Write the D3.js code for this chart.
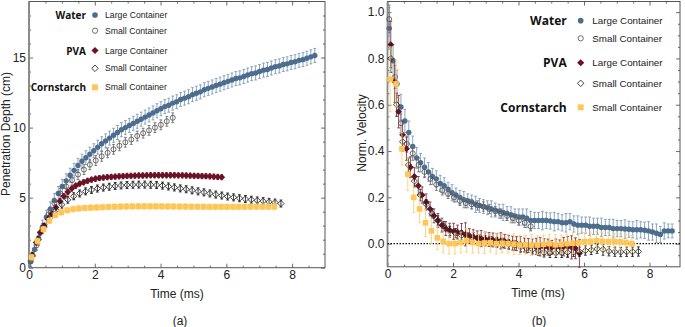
<!DOCTYPE html>
<html>
<head>
<meta charset="utf-8">
<script src="https://cdn.jsdelivr.net/npm/d3@7"></script>
<style>
  body { margin: 0; background: #fff; }
  svg { display: block; }
</style>
</head>
<body>
<div id="chart"></div>
<script>
// ---- data ----
// water, large container
var tWL = [0.05,0.17,0.29,0.41,0.53,0.65,0.77,0.89,1.01,1.13,
    1.25,1.37,1.49,1.61,1.73,1.85,1.97,2.09,2.21,2.33,
    2.45,2.57,2.69,2.81,2.93,3.05,3.17,3.29,3.41,3.53,
    3.65,3.77,3.89,4.01,4.13,4.25,4.37,4.49,4.61,4.73,
    4.85,4.97,5.09,5.21,5.33,5.45,5.57,5.69,5.81,5.93,
    6.05,6.17,6.29,6.41,6.53,6.65,6.77,6.89,7.01,7.13,
    7.25,7.37,7.49,7.61,7.73,7.85,7.97,8.09,8.21,8.33,
    8.45,8.57,8.69]
var depthWL = [0.45,1.3,2.1,2.9,3.6,4.2,4.8,5.3,5.8,6.2,
    6.6,6.95,7.3,7.6,7.85,8.1,8.35,8.6,8.85,9.05,
    9.25,9.45,9.65,9.85,10.0,10.15,10.3,10.45,10.6,10.75,
    10.9,11.05,11.2,11.35,11.5,11.6,11.75,11.85,12.0,12.1,
    12.2,12.35,12.45,12.55,12.7,12.8,12.9,13.0,13.1,13.2,
    13.3,13.4,13.5,13.55,13.65,13.75,13.85,13.9,14.0,14.1,
    14.15,14.25,14.35,14.4,14.5,14.55,14.65,14.7,14.8,14.85,
    14.95,15.05,15.15]
var velWL = [0.93,0.79,0.69,0.59,0.53,0.48,0.42,0.37,0.35,0.33,
    0.31,0.29,0.28,0.26,0.25,0.235,0.22,0.21,0.2,0.19,
    0.185,0.18,0.17,0.165,0.16,0.155,0.15,0.145,0.14,0.135,
    0.13,0.125,0.12,0.115,0.115,0.11,0.1,0.1,0.1,0.1,
    0.1,0.098,0.095,0.095,0.09,0.09,0.095,0.085,0.08,0.08,
    0.08,0.075,0.075,0.075,0.07,0.07,0.07,0.065,0.065,0.065,
    0.063,0.062,0.06,0.06,0.06,0.058,0.055,0.05,0.045,0.04,
    0.055,0.055,0.055]
var velErrWL = [0.09,0.07,0.06,0.055,0.05,0.05,0.045,0.045,0.04,0.04,
    0.04,0.035,0.035,0.035,0.035,0.03,0.035,0.03,0.03,0.035,
    0.03,0.03,0.035,0.03,0.03,0.03,0.035,0.03,0.03,0.035,
    0.03,0.035,0.03,0.035,0.035,0.04,0.04,0.035,0.035,0.04,
    0.035,0.035,0.04,0.035,0.035,0.04,0.035,0.035,0.04,0.035,
    0.035,0.04,0.035,0.035,0.04,0.035,0.035,0.04,0.035,0.035,
    0.04,0.035,0.035,0.04,0.035,0.035,0.04,0.035,0.04,0.035,
    0.035,0.03,0.03]
var depthErrWL = 0.5

// water, small container
var tWS = [0.05,0.23,0.41,0.59,0.77,0.95,1.13,1.31,1.49,1.67,
    1.85,2.03,2.21,2.39,2.57,2.75,2.93,3.11,3.29,3.47,
    3.65,3.83,4.01,4.19,4.37]
var depthWS = [0.45,1.6,2.8,3.8,4.6,5.3,5.8,6.25,6.65,7.0,
    7.35,7.65,7.95,8.2,8.45,8.7,8.95,9.15,9.4,9.6,
    9.8,10.0,10.2,10.45,10.7]
var velWS = [0.97,0.72,0.52,0.43,0.39,0.34,0.31,0.28,0.255,0.23,
    0.215,0.2,0.185,0.175,0.17,0.165,0.16,0.15,0.14,0.13,
    0.12,0.11,0.1,0.09,0.075]
var velErrWS = [0.06,0.05,0.04,0.035,0.03,0.03,0.025,0.025,0.025,0.02,
    0.02,0.02,0.02,0.02,0.02,0.02,0.02,0.02,0.02,0.02,
    0.02,0.02,0.02,0.02,0.02]
var depthErrWS = 0.35

// PVA, large container
var tPL = [0.1,0.22,0.34,0.46,0.58,0.7,0.82,0.94,1.06,1.18,
    1.3,1.42,1.54,1.66,1.78,1.9,2.02,2.14,2.26,2.38,
    2.5,2.62,2.74,2.86,2.98,3.1,3.22,3.34,3.46,3.58,
    3.7,3.82,3.94,4.06,4.18,4.3,4.42,4.54,4.66,4.78,
    4.9,5.02,5.14,5.26,5.38,5.5,5.62,5.74,5.86]
var depthPL = [0.9,1.8,2.5,3.0,3.45,3.85,4.3,4.75,5.1,5.4,
    5.65,5.85,6.0,6.1,6.2,6.28,6.35,6.4,6.43,6.46,
    6.48,6.5,6.52,6.53,6.55,6.56,6.57,6.58,6.58,6.59,
    6.6,6.6,6.6,6.6,6.6,6.6,6.6,6.59,6.59,6.58,
    6.57,6.56,6.55,6.54,6.53,6.52,6.5,6.48,6.46]
var velPL = [0.86,0.7,0.57,0.47,0.41,0.33,0.29,0.25,0.21,0.18,
    0.15,0.12,0.1,0.08,0.065,0.058,0.053,0.05,0.047,0.04,
    0.035,0.03,0.025,0.022,0.02,0.018,0.016,0.014,0.012,0.01,
    0.006,0.002,0.0,-0.004,-0.006,-0.008,-0.01,-0.012,-0.013,-0.014,
    -0.015,-0.016,-0.015,-0.014,-0.013,-0.014,-0.016,-0.02,-0.042]
var velErrPL = [0.1,0.09,0.07,0.06,0.05,0.045,0.04,0.04,0.035,0.035,
    0.03,0.03,0.03,0.03,0.03,0.03,0.035,0.03,0.04,0.05,
    0.03,0.03,0.03,0.035,0.03,0.03,0.03,0.03,0.035,0.03,
    0.03,0.03,0.03,0.035,0.03,0.03,0.03,0.035,0.04,0.035,
    0.035,0.03,0.035,0.03,0.04,0.045,0.05,0.045,0.06]
var depthErrPL = 0.18

// PVA, small container
var tPS = [0.1,0.28,0.46,0.64,0.82,1.0,1.18,1.36,1.54,1.72,
    1.9,2.08,2.26,2.44,2.62,2.8,2.98,3.16,3.34,3.52,
    3.7,3.88,4.06,4.24,4.42,4.6,4.78,4.96,5.14,5.32,
    5.5,5.68,5.86,6.04,6.22,6.4,6.58,6.76,6.94,7.12,
    7.3,7.48,7.66]
var depthPS = [0.85,2.0,2.9,3.6,4.1,4.5,4.85,5.1,5.3,5.45,
    5.55,5.65,5.72,5.78,5.83,5.87,5.9,5.92,5.93,5.93,
    5.92,5.9,5.86,5.8,5.73,5.66,5.6,5.52,5.45,5.38,
    5.3,5.22,5.15,5.08,5.02,4.96,4.9,4.85,4.8,4.75,
    4.7,4.65,4.58]
var velPS = [0.8,0.6,0.44,0.34,0.27,0.21,0.17,0.13,0.1,0.075,
    0.055,0.045,0.035,0.027,0.022,0.018,0.014,0.01,0.007,0.003,
    -0.003,-0.008,-0.014,-0.02,-0.025,-0.03,-0.038,-0.04,-0.04,-0.04,
    -0.038,-0.036,-0.035,-0.03,-0.027,-0.022,-0.025,-0.033,-0.035,-0.036,
    -0.035,-0.035,-0.034]
var velErrPS = [0.06,0.05,0.04,0.03,0.025,0.025,0.02,0.02,0.02,0.02,
    0.02,0.02,0.02,0.02,0.025,0.02,0.02,0.02,0.02,0.02,
    0.02,0.02,0.02,0.02,0.02,0.02,0.02,0.02,0.02,0.02,
    0.02,0.02,0.02,0.02,0.02,0.02,0.025,0.02,0.02,0.02,
    0.02,0.02,0.02]
var depthErrPS = 0.25

// cornstarch, small container
var tCS = [0.08,0.26,0.44,0.62,0.8,0.98,1.16,1.34,1.52,1.7,
    1.88,2.06,2.24,2.42,2.6,2.78,2.96,3.14,3.32,3.5,
    3.68,3.86,4.04,4.22,4.4,4.58,4.76,4.94,5.12,5.3,
    5.48,5.66,5.84,6.02,6.2,6.38,6.56,6.74,6.92,7.1,
    7.28,7.46]
var depthCS = [0.75,1.9,2.75,3.35,3.75,3.95,4.1,4.18,4.23,4.26,
    4.28,4.3,4.32,4.34,4.35,4.36,4.37,4.38,4.38,4.38,
    4.38,4.38,4.38,4.37,4.37,4.36,4.36,4.35,4.35,4.35,
    4.34,4.34,4.34,4.34,4.34,4.34,4.35,4.35,4.35,4.35,
    4.35,4.35]
var velCS = [0.71,0.69,0.41,0.3,0.2,0.15,0.09,0.055,0.025,0.01,
    0.0,0.0,0.005,0.013,0.005,0.0,0.003,0.004,0.0,0.002,
    0.0,-0.002,-0.006,-0.005,-0.006,-0.006,-0.003,0.0,-0.005,-0.003,
    0.0,0.002,0.004,0.008,0.01,0.013,0.01,0.009,0.009,0.008,
    0.005,0.0]
var velErrCS = [0.14,0.1,0.07,0.07,0.065,0.06,0.06,0.055,0.05,0.05,
    0.045,0.045,0.045,0.05,0.045,0.04,0.045,0.04,0.045,0.04,
    0.04,0.045,0.04,0.04,0.045,0.04,0.04,0.04,0.045,0.04,
    0.04,0.045,0.04,0.04,0.04,0.04,0.04,0.04,0.035,0.035,
    0.035,0.035]
var depthErrCS = 0.2

// ticks
var timeTicks = [0, 2, 4, 6, 8]
var timeMinor = [0.5, 1, 1.5, 2.5, 3, 3.5, 4.5, 5, 5.5, 6.5, 7, 7.5, 8.5]
var depthTicks = [0, 5, 10, 15]
var depthMinor = [1, 2, 3, 4, 6, 7, 8, 9, 11, 12, 13, 14, 16, 17, 18]
var velTicks = [0, 0.2, 0.4, 0.6, 0.8, 1.0]
var velMinor = [-0.05, 0.05, 0.1, 0.15, 0.25, 0.3, 0.35, 0.45, 0.5, 0.55, 0.65, 0.7, 0.75, 0.85, 0.9, 0.95]

var fluids = ['Water', 'PVA', 'Cornstarch']
var containers = ['Large Container', 'Small Container']

// ---- drawing ----
var W = 685, H = 327
var sansFont = "'Liberation Sans', Arial, sans-serif"
var boldFont = "'Open Sans', 'DejaVu Sans', sans-serif"

var svg = d3.select('#chart').append('svg')
    .attr('width', W)
    .attr('height', H)

var styles = {
    WL: { shape: 'circle', fill: '#4d6d8f', stroke: 'none', err: '#7f9cba' },
    WS: { shape: 'circle', fill: 'none', stroke: '#555', err: '#707070' },
    PL: { shape: 'diamond', fill: '#6b1227', stroke: 'none', err: '#803a4a' },
    PS: { shape: 'diamond', fill: 'none', stroke: '#222', err: '#222' },
    CS: { shape: 'square', fill: '#fec656', stroke: 'none', err: '#fdcf73' }
}

function marker(sel, st, big) {
    var s = big ? 1.05 : 1
    if (st.shape == 'circle') {
        sel.append('circle').attr('r', (st.fill == 'none' ? 2.5 : 2.7) * s)
    } else if (st.shape == 'diamond') {
        var r = (st.fill == 'none' ? 3.1 : 3.4) * s
        sel.append('path').attr('d', `M0,${-r}L${r},0L0,${r}L${-r},0Z`)
    } else {
        var h = 2.8 * s
        sel.append('rect').attr('x', -h).attr('y', -h).attr('width', 2 * h).attr('height', 2 * h)
    }
    sel.selectAll('*')
        .attr('fill', st.fill)
        .attr('stroke', st.stroke)
        .attr('stroke-width', st.fill == 'none' ? 0.85 : 0)
}

function drawSeries(g, x, y, ts, vals, errs, st) {
    var pts = ts.map(function (t, i) {
        return { t: t, v: vals[i], e: Array.isArray(errs) ? errs[i] : errs }
    })
    var eb = g.append('g').attr('stroke', st.err).attr('stroke-width', 0.9).attr('fill', 'none')
    eb.selectAll('path')
        .data(pts)
        .enter().append('path')
        .attr('d', function (d) {
            var cx = x(d.t), y1 = y(d.v + d.e), y2 = y(d.v - d.e)
            return `M${cx},${y1}V${y2}M${cx - 1.4},${y1}H${cx + 1.4}M${cx - 1.4},${y2}H${cx + 1.4}`
        })
    var mk = g.append('g')
    mk.selectAll('g')
        .data(pts)
        .enter().append('g')
        .attr('transform', function (d) { return `translate(${x(d.t)},${y(d.v)})` })
        .each(function () { marker(d3.select(this), st, false) })
}

function frame(g, x, y, xt, xm, yt, ym, yfmt) {
    var x0 = x.range()[0], x1 = x.range()[1], y0 = y.range()[0], y1 = y.range()[1]
    function ax(axis, tr, vals, size, labels, fmt) {
        var a = axis.tickValues(vals).tickSize(-size).tickPadding(3)
        a.tickFormat(labels ? fmt : '')
        var gg = g.append('g').attr('transform', tr).call(a)
        gg.select('.domain').remove()
        gg.selectAll('line').attr('stroke', '#444').attr('stroke-width', 0.8)
        gg.selectAll('text')
            .attr('font-family', sansFont)
            .attr('font-size', 12)
            .attr('fill', '#222')
    }
    var xf = d3.format('d')
    ax(d3.axisBottom(x), `translate(0,${y0})`, xt, 4, true, xf)
    ax(d3.axisBottom(x), `translate(0,${y0})`, xm, 2, false)
    ax(d3.axisTop(x), `translate(0,${y1})`, xt, 4, false)
    ax(d3.axisTop(x), `translate(0,${y1})`, xm, 2, false)
    ax(d3.axisLeft(y), `translate(${x0},0)`, yt, 4, true, yfmt)
    ax(d3.axisLeft(y), `translate(${x0},0)`, ym, 2, false)
    ax(d3.axisRight(y), `translate(${x1},0)`, yt, 4, false)
    ax(d3.axisRight(y), `translate(${x1},0)`, ym, 2, false)
    g.append('rect')
        .attr('x', x0).attr('y', y1)
        .attr('width', x1 - x0).attr('height', y0 - y1)
        .attr('fill', 'none').attr('stroke', '#555').attr('stroke-width', 1)
    g.append('line')
        .attr('x1', x0).attr('x2', x0).attr('y1', y1).attr('y2', y0)
        .attr('stroke', '#888').attr('stroke-width', 1.8)
}

function legend(g, x0, rows, boldSize, textSize, gapMark, gapText) {
    // rows: [label or '', style, container text, y]
    rows.forEach(function (r) {
        if (r[0]) {
            g.append('text')
                .attr('x', x0).attr('y', r[3])
                .attr('text-anchor', 'end')
                .attr('dominant-baseline', 'central')
                .attr('font-family', boldFont)
                .attr('font-weight', 700)
                .attr('font-size', boldSize)
                .attr('fill', '#111')
                .text(r[0])
        }
        var m = g.append('g').attr('transform', `translate(${x0 + gapMark},${r[3]})`)
        marker(m, r[1], true)
        g.append('text')
            .attr('x', x0 + gapText).attr('y', r[3])
            .attr('dominant-baseline', 'central')
            .attr('font-family', sansFont)
            .attr('font-size', textSize)
            .attr('fill', '#222')
            .text(r[2])
    })
}

// ---- panel (a): penetration depth ----
var ga = svg.append('g')
var xA = d3.scaleLinear().domain([0, 9]).range([29, 325])
var yA = d3.scaleLinear().domain([0, 19]).range([267.7, 1.5])

frame(ga, xA, yA, timeTicks, timeMinor, depthTicks, depthMinor, d3.format('d'))

drawSeries(ga, xA, yA, tWL, depthWL, depthErrWL, styles.WL)
drawSeries(ga, xA, yA, tWS, depthWS, depthErrWS, styles.WS)
drawSeries(ga, xA, yA, tPL, depthPL, depthErrPL, styles.PL)
drawSeries(ga, xA, yA, tPS, depthPS, depthErrPS, styles.PS)
drawSeries(ga, xA, yA, tCS, depthCS, depthErrCS, styles.CS)

legend(ga, 86, [
    [fluids[0], styles.WL, containers[0], 15],
    ['', styles.WS, containers[1], 30.7],
    [fluids[1], styles.PL, containers[0], 50.5],
    ['', styles.PS, containers[1], 68.3],
    [fluids[2], styles.CS, containers[1], 87.3]
], 10, 8.7, 9, 19)

ga.append('text')
    .attr('x', 177).attr('y', 294)
    .attr('text-anchor', 'middle').attr('dominant-baseline', 'central')
    .attr('font-family', sansFont).attr('font-size', 12).attr('fill', '#222')
    .text('Time (ms)')
ga.append('text')
    .attr('transform', 'translate(6,134) rotate(-90)')
    .attr('text-anchor', 'middle').attr('dominant-baseline', 'central')
    .attr('font-family', sansFont).attr('font-size', 12).attr('fill', '#222')
    .text('Penetration Depth (cm)')
ga.append('text')
    .attr('x', 180).attr('y', 321)
    .attr('text-anchor', 'middle').attr('dominant-baseline', 'central')
    .attr('font-family', sansFont).attr('font-size', 12).attr('fill', '#222')
    .text('(a)')

// ---- panel (b): normalised velocity ----
var gb = svg.append('g')
var xB = d3.scaleLinear().domain([0, 8.93]).range([387.5, 680])
var yB = d3.scaleLinear().domain([-0.1, 1.046]).range([266.8, 1.5])

frame(gb, xB, yB, timeTicks, timeMinor, velTicks, velMinor, d3.format('.1f'))

gb.append('line')
    .attr('x1', xB(0)).attr('x2', xB.range()[1])
    .attr('y1', yB(0)).attr('y2', yB(0))
    .attr('stroke', '#111').attr('stroke-width', 1.2)
    .attr('stroke-dasharray', '1.5,1.5')

drawSeries(gb, xB, yB, tWL, velWL, velErrWL, styles.WL)
drawSeries(gb, xB, yB, tWS, velWS, velErrWS, styles.WS)
drawSeries(gb, xB, yB, tPL, velPL, velErrPL, styles.PL)
drawSeries(gb, xB, yB, tPS, velPS, velErrPS, styles.PS)
drawSeries(gb, xB, yB, tCS, velCS, velErrCS, styles.CS)

legend(gb, 566.7, [
    [fluids[0], styles.WL, containers[0], 20.7],
    ['', styles.WS, containers[1], 38.3],
    [fluids[1], styles.PL, containers[0], 62.7],
    ['', styles.PS, containers[1], 83.3],
    [fluids[2], styles.CS, containers[1], 107.3]
], 12, 9.8, 14, 25.6)

gb.append('text')
    .attr('x', 538).attr('y', 293)
    .attr('text-anchor', 'middle').attr('dominant-baseline', 'central')
    .attr('font-family', sansFont).attr('font-size', 12).attr('fill', '#222')
    .text('Time (ms)')
gb.append('text')
    .attr('transform', 'translate(362,133) rotate(-90)')
    .attr('text-anchor', 'middle').attr('dominant-baseline', 'central')
    .attr('font-family', sansFont).attr('font-size', 12).attr('fill', '#222')
    .text('Norm. Velocity')
gb.append('text')
    .attr('x', 539).attr('y', 321)
    .attr('text-anchor', 'middle').attr('dominant-baseline', 'central')
    .attr('font-family', sansFont).attr('font-size', 12).attr('fill', '#222')
    .text('(b)')
</script>
</body>
</html>
